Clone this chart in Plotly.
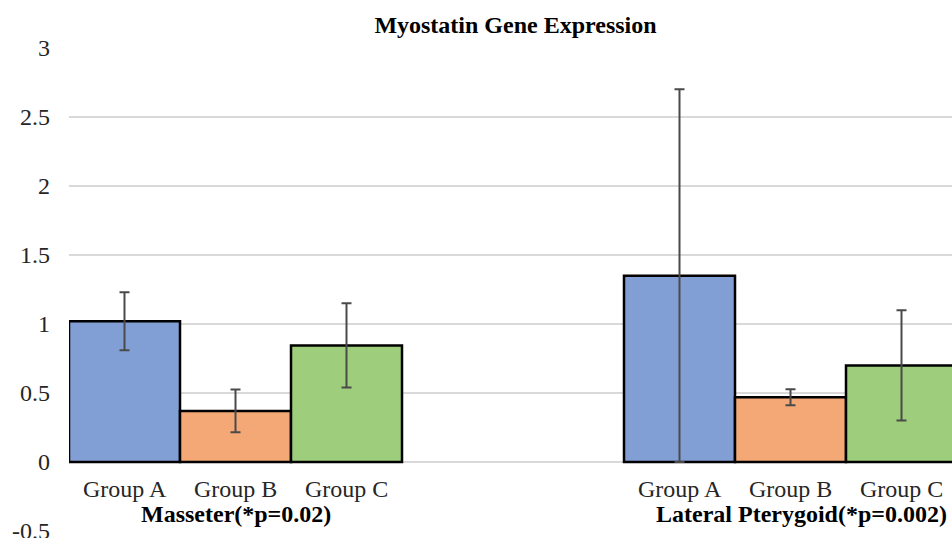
import plotly.graph_objects as go

muscles = ["Masseter", "Lateral Pterygoid"]
muscle_labels = ["Masseter(*p=0.02)", "Lateral Pterygoid(*p=0.002)"]
groups = ["Group A", "Group B", "Group C"]
# values per group: [Masseter, Lateral Pterygoid]
means = {
    "Group A": [1.02, 1.35],
    "Group B": [0.37, 0.47],
    "Group C": [0.845, 0.70],
}
errors = {
    "Group A": [0.21, 1.35],
    "Group B": [0.155, 0.058],
    "Group C": [0.305, 0.40],
}
colors = {"Group A": "#819fd5", "Group B": "#f3a876", "Group C": "#9ecd7c"}
y_ticks = [-0.5, 0, 0.5, 1, 1.5, 2, 2.5, 3]

CAT_SPAN = 5  # bar slots per muscle category (3 bars + gap)
FONT = "Liberation Serif, Times New Roman, serif"
FS = 24
W, H = 952, 538

fig = go.Figure()
for g_i, g in enumerate(groups):
    xs = [m_i * CAT_SPAN + g_i for m_i in range(len(muscles))]
    fig.add_trace(go.Bar(
        x=xs, y=means[g], width=1, name=g,
        marker=dict(color=colors[g], line=dict(color="#000000", width=2.5)),
        error_y=dict(type="data", array=errors[g], visible=True,
                     color="#4a4a4a", thickness=2, width=5),
    ))

annotations = []
for m_i, m in enumerate(muscles):
    for g_i, g in enumerate(groups):
        annotations.append(dict(
            x=m_i * CAT_SPAN + g_i, y=-0.195, xref="x", yref="y",
            text=g, showarrow=False, yanchor="middle", xanchor="center",
            font=dict(family=FONT, size=FS, color="#262626"),
        ))
    annotations.append(dict(
        x=m_i * CAT_SPAN + 1 + (0.1 if m_i == 1 else 0), y=-0.375, xref="x", yref="y",
        text="<b>" + muscle_labels[m_i] + "</b>", showarrow=False,
        yanchor="middle", xanchor="center",
        font=dict(family=FONT, size=FS, color="#000000"),
    ))

fig.update_layout(
    width=W, height=H,
    margin=dict(l=69, r=0, t=47, b=6, autoexpand=False),
    paper_bgcolor="white", plot_bgcolor="white",
    barmode="overlay", showlegend=False,
    title=dict(text="<b>Myostatin Gene Expression</b>", x=515.5 / W, xanchor="center",
               y=1 - 25 / H, yanchor="middle", yref="container",
               font=dict(family=FONT, size=FS, color="#000000")),
    annotations=annotations,
)
fig.update_xaxes(range=[-0.5, 7.455], showticklabels=False, showgrid=False,
                 zeroline=False, showline=False, ticks="", automargin=False)
fig.update_yaxes(range=[-0.507, 3.007], tickvals=y_ticks,
                 ticktext=[("%g" % v) for v in y_ticks],
                 showgrid=True, gridcolor="#d9d9d9", gridwidth=2,
                 zeroline=False, showline=False, ticks="", automargin=False,
                 ticklabelstandoff=18, ticklabeloverflow="allow",
                 tickfont=dict(family=FONT, size=FS, color="#262626"))

fig.write_html(
    "out.html",
    config={"displayModeBar": False},
    post_script="document.body.style.margin='0';document.body.style.overflow='hidden';",
)
